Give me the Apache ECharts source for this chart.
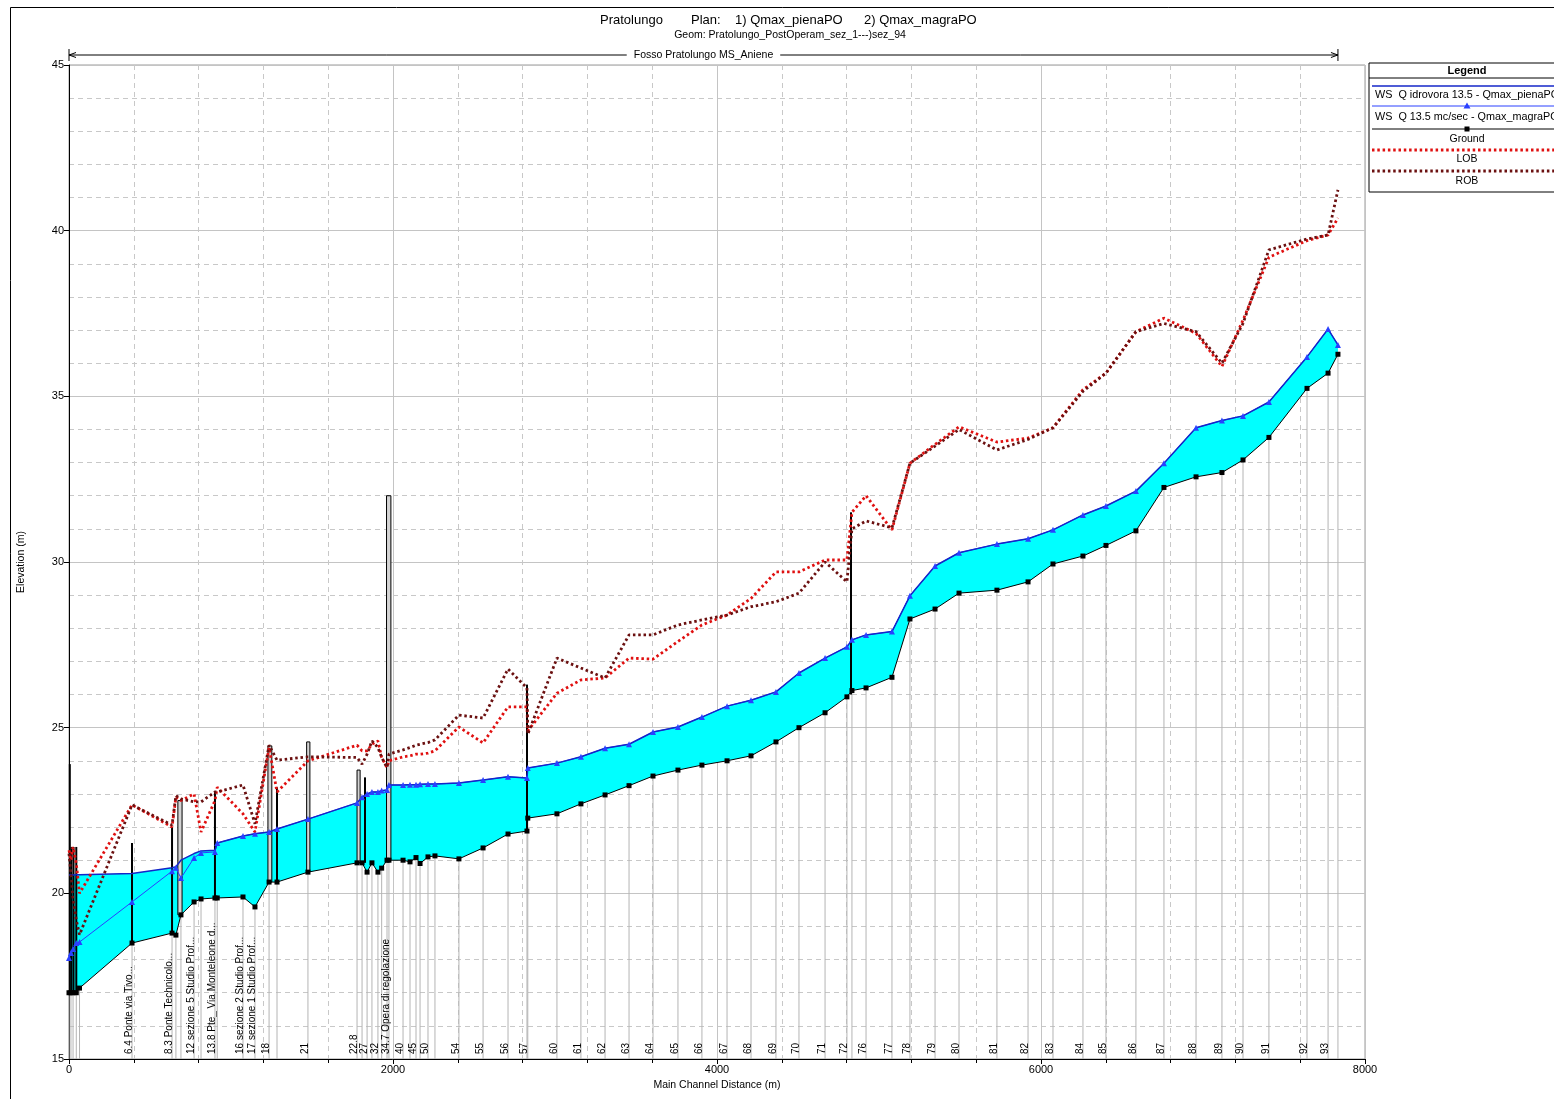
<!DOCTYPE html>
<html><head><meta charset="utf-8">
<script src="https://cdn.jsdelivr.net/npm/echarts@6/dist/echarts.min.js"></script>
<style>html,body{margin:0;padding:0;background:#fff}#c{width:1554px;height:1099px}</style>
</head><body><div id="c"></div>
<script>
// ---- data ----
const labels = ["", "", "", "", "", "6.4 Ponte via Tivo...", "8.3 Ponte Technicolo...", "", "", "12 sezione 5 Studio Prof...", "", "13.8 Pte_ Via Monteleone d...", "", "16 sezione 2 Studio Prof...", "17 sezione 1 Studio Prof...", "18", "", "21", "22.8", "", "27", "", "32", "", "", "34.7 Opera di regolazione", "40", "", "45", "", "50", "", "54", "55", "56", "57", "", "60", "61", "62", "63", "64", "65", "66", "67", "68", "69", "70", "71", "72", "", "76", "77", "78", "79", "80", "81", "82", "83", "84", "85", "86", "87", "88", "89", "90", "91", "92", "93", ""];
const dist = [0, 12, 25, 45, 65, 389, 636, 660, 691, 772, 815, 901, 915, 1074, 1148, 1235, 1284, 1475, 1778, 1809, 1840, 1870, 1907, 1930, 1963, 1975, 2062, 2105, 2142, 2167, 2216, 2259, 2407, 2556, 2710, 2827, 2832, 3012, 3160, 3309, 3457, 3605, 3759, 3907, 4062, 4210, 4364, 4506, 4667, 4802, 4833, 4920, 5080, 5191, 5346, 5494, 5728, 5920, 6074, 6259, 6401, 6586, 6759, 6957, 7117, 7247, 7407, 7642, 7772, 7833];
const ground = [17.0, 17.0, 17.0, 17.0, 17.14, 18.5, 18.8, 18.74, 19.35, 19.74, 19.83, 19.86, 19.86, 19.89, 19.59, 20.34, 20.34, 20.64, 20.92, 20.92, 20.64, 20.92, 20.64, 20.76, 21.0, 21.0, 21.0, 20.95, 21.08, 20.9, 21.1, 21.13, 21.04, 21.37, 21.79, 21.88, 22.27, 22.4, 22.7, 22.97, 23.25, 23.54, 23.72, 23.87, 24.0, 24.15, 24.57, 25.0, 25.45, 25.93, 26.12, 26.2, 26.52, 28.28, 28.58, 29.06, 29.15, 29.4, 29.94, 30.18, 30.5, 30.94, 32.25, 32.57, 32.7, 33.08, 33.76, 35.24, 35.7, 36.27];
const wsPiena = [20.55, 20.55, 20.55, 20.56, 20.56, 20.6, 20.77, 20.8, 21.0, 21.2, 21.28, 21.3, 21.52, 21.73, 21.8, 21.85, 21.94, 22.24, 22.73, 22.9, 23.0, 23.06, 23.06, 23.1, 23.12, 23.27, 23.27, 23.28, 23.28, 23.29, 23.3, 23.3, 23.33, 23.42, 23.52, 23.48, 23.78, 23.93, 24.12, 24.38, 24.5, 24.87, 25.02, 25.32, 25.65, 25.83, 26.08, 26.65, 27.1, 27.44, 27.65, 27.8, 27.9, 28.98, 29.88, 30.28, 30.54, 30.7, 30.97, 31.42, 31.69, 32.14, 32.98, 34.05, 34.27, 34.41, 34.83, 36.19, 37.03, 36.55];
const wsMagra = [18.05, 18.2, 18.32, 18.5, 18.53, 19.74, 20.67, 20.77, 20.46, 21.07, 21.22, 21.25, 21.52, 21.73, 21.8, 21.85, 21.94, 22.24, 22.73, 22.9, 23.0, 23.06, 23.06, 23.1, 23.12, 23.27, 23.27, 23.28, 23.28, 23.29, 23.3, 23.3, 23.33, 23.42, 23.52, 23.48, 23.78, 23.93, 24.12, 24.38, 24.5, 24.87, 25.02, 25.32, 25.65, 25.83, 26.08, 26.65, 27.1, 27.44, 27.65, 27.8, 27.9, 28.98, 29.88, 30.28, 30.54, 30.7, 30.97, 31.42, 31.69, 32.14, 32.98, 34.05, 34.27, 34.41, 34.83, 36.19, 37.03, 36.55];
const lob = [21.3, 21.0, 21.4, 20.9, 20.0, 22.67, 22.0, 22.9, 22.8, 23.0, 21.85, 22.8, 23.2, 22.4, 21.85, 24.4, 23.06, 24.0, 24.47, 24.3, 24.3, 24.5, 24.6, 24.1, 23.8, 24.0, 24.12, 24.15, 24.2, 24.2, 24.23, 24.3, 25.02, 24.54, 25.63, 25.63, 24.9, 26.04, 26.44, 26.5, 27.1, 27.07, 27.6, 28.1, 28.4, 28.9, 29.7, 29.7, 30.06, 30.06, 31.5, 32.0, 30.97, 32.98, 33.55, 34.08, 33.62, 33.74, 34.05, 35.2, 35.7, 36.95, 37.36, 36.9, 35.9, 37.3, 39.2, 39.7, 39.87, 40.38];
const rob = [21.2, 20.6, 19.8, 19.2, 18.75, 22.67, 22.06, 22.95, 22.85, 22.76, 22.76, 23.06, 23.06, 23.27, 22.1, 24.47, 24.02, 24.12, 24.1, 23.9, 24.2, 24.6, 24.4, 24.1, 23.8, 24.2, 24.33, 24.4, 24.47, 24.5, 24.55, 24.63, 25.38, 25.29, 26.77, 26.2, 24.8, 27.1, 26.8, 26.5, 27.8, 27.8, 28.1, 28.25, 28.4, 28.65, 28.8, 29.06, 30.0, 29.4, 31.0, 31.24, 31.03, 32.98, 33.5, 34.0, 33.38, 33.7, 34.05, 35.15, 35.7, 36.95, 37.2, 36.95, 36.0, 37.2, 39.42, 39.75, 39.87, 41.23];
// structures (bridges / culverts): distance range and elevation range
const bridgeStart = [5, 15, 28, 45, 389, 636, 672, 901, 1228, 1284, 1467, 1778, 1827, 1960, 2827, 4827];
const bridgeEnd   = [5, 15, 28, 45, 389, 636, 698, 901, 1252, 1284, 1487, 1797, 1827, 1987, 2827, 4827];
const bridgeLow   = [17.0, 17.0, 17.0, 17.0, 18.5, 18.8, 19.35, 19.86, 20.34, 20.34, 20.64, 20.92, 20.92, 21.0, 21.88, 26.0];
const bridgeHigh  = [23.9, 21.4, 21.4, 21.4, 21.52, 22.0, 22.8, 23.06, 24.45, 23.2, 24.57, 23.72, 23.5, 32.0, 26.3, 31.5];
const xRange = [0, 8000, 2000];
const yRange = [15, 45, 5];
const titleParts = ["Pratolungo", "Plan:", "1) Qmax_pienaPO", "2) Qmax_magraPO"];
const geomText = "Geom: Pratolungo_PostOperam_sez_1---)sez_94";
const reachName = "Fosso Pratolungo MS_Aniene";
const legendNames = ["WS  Q idrovora 13.5 - Qmax_pienaPO", "WS  Q 13.5 mc/sec - Qmax_magraPO", "Ground", "LOB", "ROB"];

// ---- chart ----
const FONT = "'Liberation Sans', Arial, Helvetica, sans-serif";
const C_WS1 = '#1426c8', C_WS2 = '#2a40ff', C_LOB = '#e01010', C_ROB = '#6b1010';
const DOT = [2.5, 2.8];
const chart = echarts.init(document.getElementById('c'), null, {renderer: 'canvas'});

function txt(o) {
  const s = Object.assign({fill: '#000', fontFamily: FONT}, o);
  if (s.align) s.textAlign = s.align;
  if (s.verticalAlign) s.textVerticalAlign = s.verticalAlign;
  return s;
}

const waterPolygon = function (params, api) {
  const pts = [];
  for (let i = 0; i < dist.length; i++) pts.push(api.coord([dist[i], wsPiena[i]]));
  for (let i = dist.length - 1; i >= 0; i--) pts.push(api.coord([dist[i], ground[i]]));
  return {type: 'polygon', shape: {points: pts}, style: {fill: '#00ffff', stroke: null}};
};

const sectionLines = function (params, api) {
  const i = params.dataIndex;
  const top = api.coord([dist[i], ground[i]]);
  const bot = api.coord([dist[i], yRange[0]]);
  const ch = [{type: 'line', shape: {x1: bot[0], y1: bot[1], x2: top[0], y2: top[1]},
    style: {stroke: '#b4b4b4', lineWidth: 1}}];
  if (labels[i]) {
    ch.push({type: 'text', x: bot[0] + 2, y: bot[1] - 5, rotation: Math.PI / 2,
      style: txt({text: labels[i], fontSize: 10, align: 'left', verticalAlign: 'bottom'})});
  }
  return {type: 'group', children: ch};
};

const bridges = function (params, api) {
  const i = params.dataIndex;
  const p1 = api.coord([bridgeStart[i], bridgeLow[i]]);
  const p2 = api.coord([bridgeEnd[i], bridgeHigh[i]]);
  if (bridgeStart[i] === bridgeEnd[i]) {
    return {type: 'line', shape: {x1: p1[0], y1: p1[1], x2: p1[0], y2: p2[1]},
      style: {stroke: '#000', lineWidth: 2}};
  }
  return {type: 'rect', shape: {x: p1[0], y: p2[1], width: Math.max(2, p2[0] - p1[0]), height: p1[1] - p2[1]},
    style: {fill: '#d4d4d4', stroke: '#000', lineWidth: 1}};
};

const reachArrow = function (params, api) {
  const a = api.coord([dist[0], yRange[1]]);
  const b = api.coord([dist[dist.length - 1], yRange[1]]);
  const y = a[1] - 10;
  const st = {stroke: '#000', lineWidth: 1, fill: null};
  return {type: 'group', children: [
    {type: 'line', shape: {x1: a[0], y1: y, x2: b[0], y2: y}, style: st},
    {type: 'line', shape: {x1: a[0], y1: y - 6, x2: a[0], y2: y + 6}, style: st},
    {type: 'line', shape: {x1: b[0], y1: y - 6, x2: b[0], y2: y + 6}, style: st},
    {type: 'polyline', shape: {points: [[a[0] + 7, y - 2.5], [a[0], y], [a[0] + 7, y + 2.5]]}, style: st},
    {type: 'polyline', shape: {points: [[b[0] - 7, y - 2.5], [b[0], y], [b[0] - 7, y + 2.5]]}, style: st},
    {type: 'text', x: (a[0] + b[0]) / 2, y: y, style: txt({text: reachName, fontSize: 10.5, align: 'center',
      verticalAlign: 'middle', backgroundColor: '#fff', padding: [1, 7]})}
  ]};
};

const pairs = (arr) => dist.map((d, i) => [d, arr[i]]);

const LX = 1369, LY = 63;
const legendGraphic = [
  {type: 'rect', shape: {x: LX, y: LY, width: 220, height: 129}, style: {fill: '#fff', stroke: '#000', lineWidth: 1}},
  {type: 'line', shape: {x1: LX, y1: LY + 15, x2: LX + 220, y2: LY + 15}, style: {stroke: '#000', lineWidth: 1}},
  {type: 'text', x: 1467, y: LY + 8, style: txt({text: 'Legend', fontSize: 11, fontWeight: 'bold', align: 'center', verticalAlign: 'middle'})},
  {type: 'line', shape: {x1: LX + 3, y1: 86, x2: LX + 220, y2: 86}, style: {stroke: C_WS1, lineWidth: 1.5}},
  {type: 'text', x: 1375, y: 95, style: txt({text: legendNames[0], fontSize: 10.8, align: 'left', verticalAlign: 'middle'})},
  {type: 'line', shape: {x1: LX + 3, y1: 106, x2: LX + 220, y2: 106}, style: {stroke: C_WS2, lineWidth: 1}},
  {type: 'polygon', shape: {points: [[1467, 102.5], [1470.5, 108.5], [1463.5, 108.5]]}, style: {fill: C_WS2}},
  {type: 'text', x: 1375, y: 117, style: txt({text: legendNames[1], fontSize: 10.8, align: 'left', verticalAlign: 'middle'})},
  {type: 'line', shape: {x1: LX + 3, y1: 129, x2: LX + 220, y2: 129}, style: {stroke: '#000', lineWidth: 1}},
  {type: 'rect', shape: {x: 1464.5, y: 126.5, width: 5, height: 5}, style: {fill: '#000'}},
  {type: 'text', x: 1467, y: 139, style: txt({text: legendNames[2], fontSize: 10.5, align: 'center', verticalAlign: 'middle'})},
  {type: 'line', shape: {x1: LX + 3, y1: 150, x2: LX + 220, y2: 150}, style: {stroke: C_LOB, lineWidth: 2.8, lineDash: DOT}},
  {type: 'text', x: 1467, y: 159.5, style: txt({text: legendNames[3], fontSize: 10.5, align: 'center', verticalAlign: 'middle'})},
  {type: 'line', shape: {x1: LX + 3, y1: 171, x2: LX + 220, y2: 171}, style: {stroke: C_ROB, lineWidth: 2.8, lineDash: DOT}},
  {type: 'text', x: 1467, y: 181, style: txt({text: legendNames[4], fontSize: 10.5, align: 'center', verticalAlign: 'middle'})}
];

const option = {
  animation: false,
  backgroundColor: '#fff',
  textStyle: {fontFamily: FONT},
  grid: {left: 69, right: 189, top: 65, bottom: 40, show: true, borderColor: '#9a9a9a', borderWidth: 1, backgroundColor: 'transparent'},
  xAxis: {
    type: 'value', min: xRange[0], max: xRange[1], interval: xRange[2],
    name: 'Main Channel Distance (m)', nameLocation: 'middle', nameGap: 19,
    nameTextStyle: {fontSize: 10.5, color: '#000', fontFamily: FONT},
    axisLine: {show: true, onZero: false, lineStyle: {color: '#000', width: 1}},
    axisTick: {show: true, length: 5, lineStyle: {color: '#000'}},
    minorTick: {show: true, splitNumber: 5, length: 4, lineStyle: {color: '#000'}},
    axisLabel: {fontSize: 11, color: '#000', margin: 5, fontFamily: FONT, formatter: (v) => String(v)},
    splitLine: {show: true, lineStyle: {color: '#c4c4c4', width: 1}},
    minorSplitLine: {show: true, lineStyle: {color: '#c8c8c8', width: 1, type: [5, 4]}}
  },
  yAxis: {
    type: 'value', min: yRange[0], max: yRange[1], interval: yRange[2],
    name: 'Elevation (m)', nameLocation: 'middle', nameGap: 42, nameRotate: 90,
    nameTextStyle: {fontSize: 10.5, color: '#000', fontFamily: FONT},
    axisLine: {show: true, onZero: false, lineStyle: {color: '#000', width: 1}},
    axisTick: {show: true, length: 5, lineStyle: {color: '#000'}},
    minorTick: {show: false, splitNumber: 5},
    axisLabel: {fontSize: 11, color: '#000', margin: 5, fontFamily: FONT, formatter: (v) => String(v)},
    splitLine: {show: true, lineStyle: {color: '#c4c4c4', width: 1}},
    minorSplitLine: {show: true, lineStyle: {color: '#c8c8c8', width: 1, type: [5, 4]}}
  },
  graphic: [
    {type: 'rect', shape: {x: 10.5, y: 7.5, width: 1700, height: 1200}, style: {fill: null, stroke: '#000', lineWidth: 1}, silent: true},
    {type: 'text', x: 600, y: 20, style: txt({text: titleParts[0], fontSize: 13, align: 'left', verticalAlign: 'middle'})},
    {type: 'text', x: 691, y: 20, style: txt({text: titleParts[1], fontSize: 13, align: 'left', verticalAlign: 'middle'})},
    {type: 'text', x: 735, y: 20, style: txt({text: titleParts[2], fontSize: 13, align: 'left', verticalAlign: 'middle'})},
    {type: 'text', x: 864, y: 20, style: txt({text: titleParts[3], fontSize: 13, align: 'left', verticalAlign: 'middle'})},
    {type: 'text', x: 790, y: 35, style: txt({text: geomText, fontSize: 10.5, align: 'center', verticalAlign: 'middle'})}
  ].concat(legendGraphic),
  series: [
    {type: 'custom', name: 'water', renderItem: waterPolygon, data: [[0, 15]], z: 1, silent: true},
    {type: 'custom', name: 'sections', renderItem: sectionLines, data: pairs(ground), z: 2, silent: true},
    {type: 'custom', name: 'structures', renderItem: bridges,
      data: bridgeStart.map((s, i) => [s, bridgeLow[i], bridgeEnd[i], bridgeHigh[i]]), z: 3, silent: true},
    {type: 'line', name: 'Ground', data: pairs(ground), z: 4, symbol: 'rect', symbolSize: 5, showAllSymbol: true,
      itemStyle: {color: '#000'}, lineStyle: {color: '#000', width: 1}},
    {type: 'line', name: 'WS magra', data: pairs(wsMagra), z: 5, symbol: 'triangle', symbolSize: 6, showAllSymbol: true,
      itemStyle: {color: C_WS2}, lineStyle: {color: C_WS2, width: 1}},
    {type: 'line', name: 'WS piena', data: pairs(wsPiena), z: 5, showSymbol: false, symbol: 'none',
      lineStyle: {color: C_WS1, width: 1.5}},
    {type: 'line', name: 'LOB', data: pairs(lob), z: 6, showSymbol: false, symbol: 'none',
      lineStyle: {color: C_LOB, width: 2.8, type: DOT}},
    {type: 'line', name: 'ROB', data: pairs(rob), z: 6, showSymbol: false, symbol: 'none',
      lineStyle: {color: C_ROB, width: 2.8, type: DOT}},
    {type: 'custom', name: 'reach', renderItem: reachArrow, data: [[0, 45]], z: 10, clip: false, silent: true}
  ]
};
chart.setOption(option);
</script>
</body></html>
